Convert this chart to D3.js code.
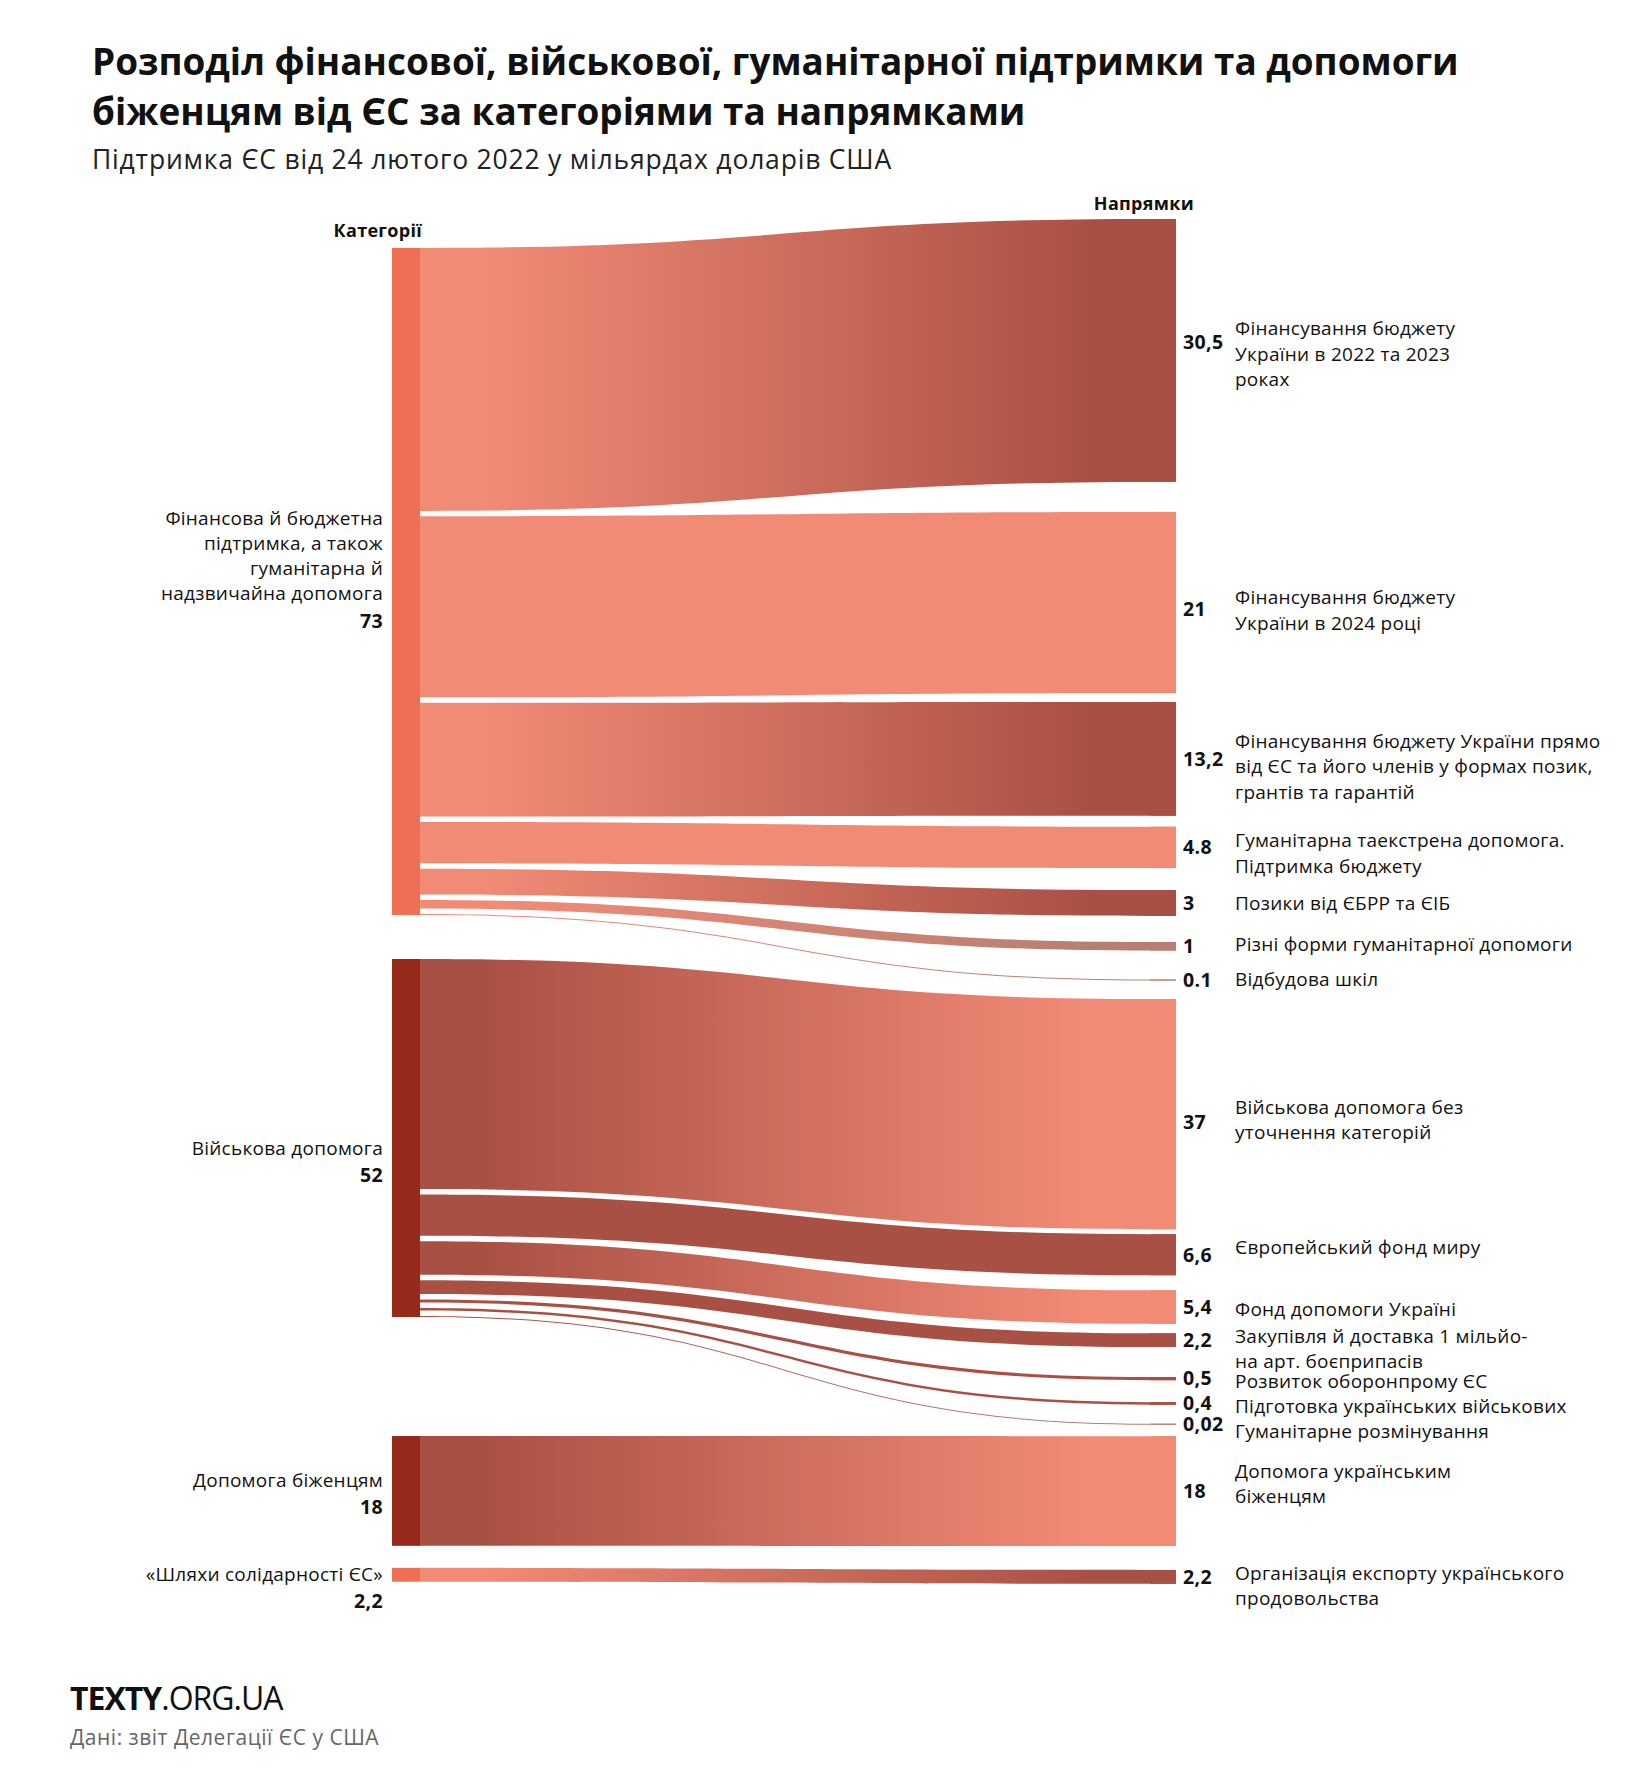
<!DOCTYPE html>
<html><head><meta charset="utf-8">
<script src="https://cdn.jsdelivr.net/npm/d3@7"></script>
<style>
html,body{margin:0;padding:0;background:#fff;}
svg{display:block;}
text{font-family:'Open Sans',sans-serif;}
</style></head><body>
<svg id="chart" width="1630" height="1777"></svg>
<script>
// ---------- DATA ----------
const titleLines = ["Розподіл фінансової, військової, гуманітарної підтримки та допомоги",
                    "біженцям від ЄС за категоріями та напрямками"];
const subtitle = "Підтримка ЄС від 24 лютого 2022 у мільярдах доларів США";
const leftHeader = "Категорії";
const rightHeader = "Напрямки";
const sourceText = "Дані: звіт Делегації ЄС у США";

const categories = [
  ["Фінансова й бюджетна", "підтримка, а також", "гуманітарна й", "надзвичайна допомога"],
  ["Військова допомога"],
  ["Допомога біженцям"],
  ["«Шляхи солідарності ЄС»"]
];
const categoryValues = [73, 52, 18, 2.2];
const categoryValueLabels = ["73", "52", "18", "2,2"];

const directions = [
  ["Фінансування бюджету", "України в 2022 та 2023", "роках"],
  ["Фінансування бюджету", "України в 2024 році"],
  ["Фінансування бюджету України прямо", "від ЄС та його членів у формах позик,", "грантів та гарантій"],
  ["Гуманітарна таекстрена допомога.", "Підтримка бюджету"],
  ["Позики від ЄБРР та ЄІБ"],
  ["Різні форми гуманітарної допомоги"],
  ["Відбудова шкіл"],
  ["Військова допомога без", "уточнення категорій"],
  ["Європейський фонд миру"],
  ["Фонд допомоги Україні"],
  ["Закупівля й доставка 1 мільйо-", "на арт. боєприпасів"],
  ["Розвиток оборонпрому ЄС"],
  ["Підготовка українських військових"],
  ["Гуманітарне розмінування"],
  ["Допомога українським", "біженцям"],
  ["Організація експорту українського", "продовольства"]
];
const directionValues = [30.5, 21, 13.2, 4.8, 3, 1, 0.1, 37, 6.6, 5.4, 2.2, 0.5, 0.4, 0.02, 18, 2.2];
const directionValueLabels = ["30,5","21","13,2","4.8","3","1","0.1","37","6,6","5,4","2,2","0,5","0,4","0,02","18","2,2"];
const directionCategory = [0,0,0,0,0,0,0,1,1,1,1,1,1,1,2,3];

// ---------- STYLE / LAYOUT ----------
const COL = {light:"#f28b76", dark:"#a95044", muted:"#b77f73", nodeLight:"#ef6f55", nodeDark:"#97291a"};
const categoryNodeColor = [COL.nodeLight, COL.nodeDark, COL.nodeDark, COL.nodeLight];
const categoryLinkColor = [COL.light, COL.dark, COL.dark, COL.light];
const directionColor = [COL.dark, COL.light, COL.dark, COL.light, COL.dark, COL.muted, COL.muted,
                        COL.light, COL.dark, COL.light, COL.dark, COL.dark, COL.dark, COL.muted, COL.light, COL.dark];
const L = {
  nodeX0: 392, nodeX1: 420, linkX1: 1150, rightX1: 1176,
  pxPerUnit: [8.62, 6.22, 6.1, 6.3],
  leftTop: 248, leftGaps: [0, 44, 119, 22], innerGap: [5.4, 5.5, 0, 0],
  rightTop: 219, rightGaps: [0, 30, 9, 11, 22, 26, 29, 18.5, 5, 15, 9.5, 30, 22, 19, 11.5, 24],
  rightLabelShift: [3.5, 8, 8, 6, 0, -2, -1, 6, -7, 2, 9, 3, 3, 7, -7, 9],
  valueShift: [-8, 7, 0, 0, 0, 0, 0, 8, 0, 0, 0, 0, 0, 0, 0, 0],
  leftLabelX: 383, leftLabelShift: [-13, 23, 2, 12], lh: 25.3,
  valueX: 1183, labelX: 1235
};

const svg = d3.select("#chart");
svg.append("rect").attr("width",1630).attr("height",1777).attr("fill","#fff");

// ---------- LAYOUT COMPUTATION ----------
const thick = L.pxPerUnit.map(k => d3.scaleLinear().domain([0, 1]).range([0, k]));
const links = directions.map((d, i) => ({
  i, lines: d, value: directionValues[i], cat: directionCategory[i],
  th: Math.max(1, thick[directionCategory[i]](directionValues[i]))
}));
let yR = L.rightTop;
links.forEach((l, i) => { yR += L.rightGaps[i]; l.y1 = yR; yR += l.th; });

const nodes = categories.map((c, ci) => ({ci, lines: c}));
let yL = L.leftTop;
nodes.forEach((n, ci) => {
  yL += L.leftGaps[ci];
  n.y0 = yL;
  links.filter(l => l.cat === ci).forEach((l, j) => {
    if (j > 0) yL += L.innerGap[ci];
    l.y0 = yL; yL += l.th;
  });
  n.y1 = yL;
});

// ---------- GRADIENTS ----------
const defs = svg.append("defs");
links.forEach(l => {
  const g = defs.append("linearGradient").attr("id", "g" + l.i)
    .attr("gradientUnits", "userSpaceOnUse")
    .attr("x1", L.nodeX1).attr("x2", L.linkX1).attr("y1", 0).attr("y2", 0);
  g.append("stop").attr("offset", 0.08).attr("stop-color", categoryLinkColor[l.cat]);
  g.append("stop").attr("offset", 0.92).attr("stop-color", directionColor[l.i]);
});

// ---------- LINKS ----------
function ribbon(l) {
  const x0 = L.nodeX1, x1 = L.linkX1, xm = (x0 + x1) / 2;
  const p = d3.path();
  p.moveTo(x0, l.y0);
  p.bezierCurveTo(xm, l.y0, xm, l.y1, x1, l.y1);
  p.lineTo(L.rightX1, l.y1);
  p.lineTo(L.rightX1, l.y1 + l.th);
  p.lineTo(x1, l.y1 + l.th);
  p.bezierCurveTo(xm, l.y1 + l.th, xm, l.y0 + l.th, x0, l.y0 + l.th);
  p.closePath();
  return p.toString();
}
svg.append("g").selectAll("path").data(links).join("path")
  .attr("d", ribbon).attr("fill", l => `url(#g${l.i})`);
svg.append("g").selectAll("rect").data(links).join("rect")
  .attr("x", L.linkX1).attr("width", L.rightX1 - L.linkX1)
  .attr("y", l => l.y1).attr("height", l => l.th)
  .attr("fill", l => directionColor[l.i]);
svg.append("g").selectAll("rect").data(nodes).join("rect")
  .attr("x", L.nodeX0).attr("width", L.nodeX1 - L.nodeX0)
  .attr("y", n => n.y0).attr("height", n => n.y1 - n.y0)
  .attr("fill", n => categoryNodeColor[n.ci]);

// ---------- LABELS ----------
const FS = 19, LS = 0.25, VFS = 19.5;
const rl = svg.append("g");
links.forEach(l => {
  const cy = l.y1 + l.th / 2;
  rl.append("text").attr("x", L.valueX).attr("y", cy + L.valueShift[l.i]).attr("dy", "0.35em")
    .attr("font-size", VFS).attr("font-weight", 700).attr("letter-spacing", 0.4).attr("fill", "#111")
    .text(directionValueLabels[l.i]);
  const n = l.lines.length;
  const t = rl.append("text").attr("font-size", FS).attr("letter-spacing", LS).attr("fill", "#111");
  l.lines.forEach((s, k) => {
    t.append("tspan").attr("x", L.labelX)
      .attr("y", cy + L.rightLabelShift[l.i] + (k - (n - 1) / 2) * L.lh).attr("dy", "0.35em").text(s);
  });
});
const ll = svg.append("g");
nodes.forEach(n => {
  const cy = (n.y0 + n.y1) / 2 + L.leftLabelShift[n.ci];
  const total = n.lines.length + 1;
  const first = cy - (total - 1) / 2 * L.lh;
  const t = ll.append("text").attr("font-size", FS).attr("letter-spacing", LS)
    .attr("fill", "#111").attr("text-anchor", "end");
  n.lines.forEach((s, k) => {
    t.append("tspan").attr("x", L.leftLabelX).attr("y", first + k * L.lh).attr("dy", "0.35em").text(s);
  });
  ll.append("text").attr("text-anchor", "end").attr("x", L.leftLabelX)
    .attr("y", first + n.lines.length * L.lh + 2).attr("dy", "0.35em")
    .attr("font-size", VFS).attr("font-weight", 700).attr("letter-spacing", 0.4).attr("fill", "#111")
    .text(categoryValueLabels[n.ci]);
});

// headers
svg.append("text").attr("x", 422).attr("y", 237).attr("text-anchor", "end")
  .attr("font-size", 18).attr("letter-spacing", 0.3).attr("font-weight", 700).attr("fill", "#111").text(leftHeader);
svg.append("text").attr("x", 1194).attr("y", 210).attr("text-anchor", "end")
  .attr("font-size", 18).attr("letter-spacing", 0.3).attr("font-weight", 700).attr("fill", "#111").text(rightHeader);

// title
titleLines.forEach((s, i) => {
  svg.append("text").attr("x", 92).attr("y", 75 + i * 50)
    .attr("font-size", 36.9).attr("font-weight", 700).attr("fill", "#111").text(s);
});
svg.append("text").attr("x", 92).attr("y", 169)
  .attr("font-size", 26.5).attr("letter-spacing", 0.8).attr("fill", "#222").text(subtitle);

// footer
const logo = svg.append("text").attr("x", 70).attr("y", 1710).attr("font-size", 32)
  .attr("letter-spacing", -1).attr("fill", "#111");
logo.append("tspan").attr("font-weight", 700).text("TEXTY");
logo.append("tspan").attr("font-weight", 400).text(".ORG.UA");
svg.append("text").attr("x", 70).attr("y", 1745).attr("font-size", 21).attr("letter-spacing", 0.5)
  .attr("fill", "#666").text(sourceText);
</script>
</body></html>
